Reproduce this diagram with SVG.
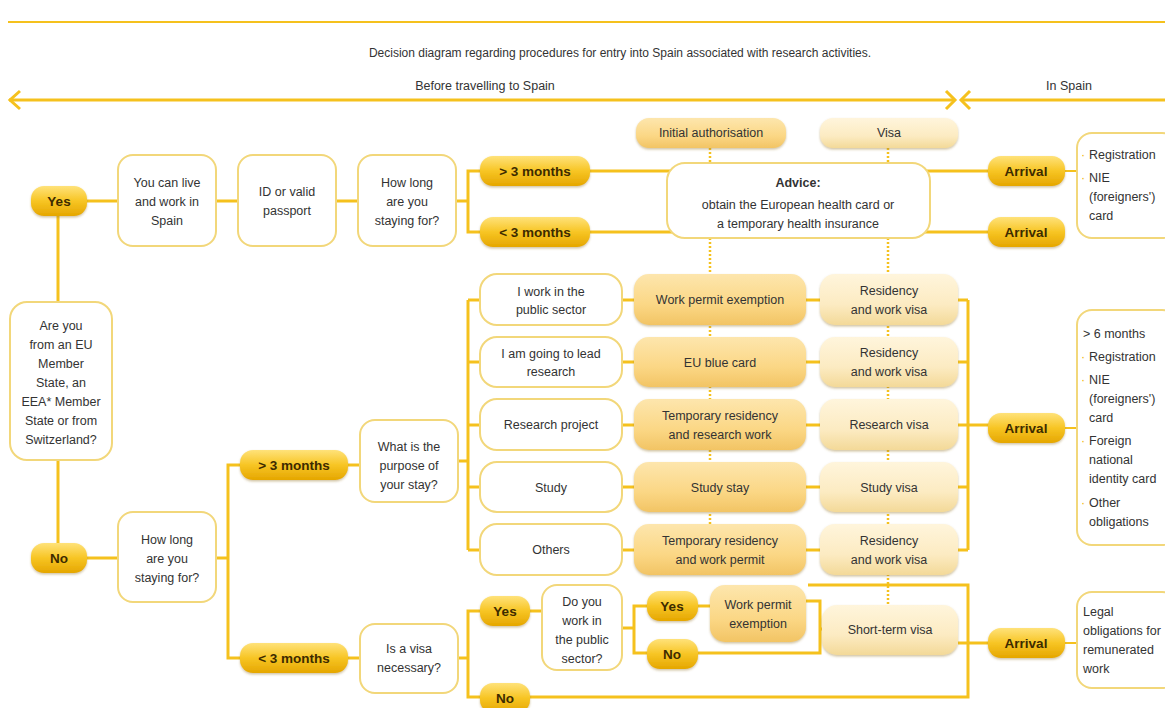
<svg xmlns="http://www.w3.org/2000/svg" width="1165" height="708" viewBox="0 0 1165 708">
<defs>
<linearGradient id="gPill" x1="0" y1="0" x2="0" y2="1"><stop offset="0" stop-color="#ffe27a"/><stop offset="0.5" stop-color="#f7c524"/><stop offset="1" stop-color="#e5a600"/></linearGradient>
<linearGradient id="gMid" x1="0" y1="0" x2="0" y2="1"><stop offset="0" stop-color="#fde6ad"/><stop offset="0.6" stop-color="#fbd785"/><stop offset="1" stop-color="#f2c464"/></linearGradient>
<linearGradient id="gLight" x1="0" y1="0" x2="0" y2="1"><stop offset="0" stop-color="#fff5dc"/><stop offset="0.6" stop-color="#fcebc2"/><stop offset="1" stop-color="#f3d998"/></linearGradient>
<filter id="sh" x="-10%" y="-20%" width="120%" height="150%"><feDropShadow dx="0" dy="1.5" stdDeviation="1.2" flood-color="#9a7a30" flood-opacity="0.45"/></filter>
<style>
.t{font-family:"Liberation Sans",Arial,sans-serif;font-size:12.5px;fill:#333;text-anchor:middle}
.tl{font-family:"Liberation Sans",Arial,sans-serif;font-size:12.5px;fill:#333}
.b{font-family:"Liberation Sans",Arial,sans-serif;font-size:13.5px;font-weight:bold;fill:#3d2b00;text-anchor:middle}
.bu{fill:#f2b705}
.box{fill:#fff;stroke:#f2d77a;stroke-width:2}
.pill{fill:url(#gPill);filter:url(#sh)}
.mid{fill:url(#gMid);filter:url(#sh)}
.lt{fill:url(#gLight);filter:url(#sh)}
.ln{fill:none;stroke:#f5c11d;stroke-width:3}
.thin{fill:none;stroke:#f5c11d;stroke-width:2}
.dot{fill:none;stroke:#f5c11d;stroke-width:2.5;stroke-dasharray:2 2}
</style>
</defs>
<rect width="1165" height="708" fill="#fff"/>
<g id="header">
<line class="thin" x1="8" y1="22" x2="1165" y2="22"/>
<text class="t" x="620" y="57" style="font-size:12px">Decision diagram regarding procedures for entry into Spain associated with research activities.</text>
<text class="t" x="485" y="90">Before travelling to Spain</text>
<text class="t" x="1069" y="90">In Spain</text>
<line class="ln" x1="9" y1="100" x2="955" y2="100"/>
<polyline class="ln" points="20,91 10,100 20,109"/>
<polyline class="ln" points="946,91 955,100 946,109"/>
<line class="ln" x1="961" y1="100" x2="1165" y2="100"/>
<polyline class="ln" points="970,91 961,100 970,109"/>
</g>
<g id="connectors">
<line class="ln" x1="58" y1="201" x2="358" y2="201"/>
<polyline class="ln" points="456,201 468,201"/>
<polyline class="ln" points="480,171 468,171 468,232 480,232"/>
<line class="ln" x1="590" y1="171" x2="990" y2="171"/>
<line class="ln" x1="590" y1="232" x2="990" y2="232"/>
<line class="thin" x1="1065" y1="171" x2="1078" y2="171"/>
<line class="ln" x1="58" y1="201" x2="58" y2="558"/>
<line class="dot" x1="710" y1="148" x2="710" y2="164"/>
<line class="dot" x1="888" y1="148" x2="888" y2="164"/>
<line class="dot" x1="710" y1="238" x2="710" y2="526"/>
<line class="dot" x1="888" y1="238" x2="888" y2="606"/>
<line class="ln" x1="58" y1="558" x2="118" y2="558"/>
<polyline class="ln" points="216,558 228,558"/>
<polyline class="ln" points="240,465 228,465 228,658 240,658"/>
<line class="ln" x1="348" y1="465" x2="360" y2="465"/>
<line class="ln" x1="348" y1="658" x2="360" y2="658"/>
<line class="ln" x1="458" y1="461" x2="468" y2="461"/>
<line class="ln" x1="468" y1="300" x2="468" y2="550"/>
<line class="ln" x1="468" y1="300" x2="968" y2="300"/>
<line class="ln" x1="468" y1="362" x2="968" y2="362"/>
<line class="ln" x1="468" y1="425" x2="990" y2="425"/>
<line class="ln" x1="468" y1="487" x2="968" y2="487"/>
<line class="ln" x1="468" y1="550" x2="968" y2="550"/>
<line class="ln" x1="968" y1="300" x2="968" y2="550"/>
<line class="thin" x1="1065" y1="428" x2="1078" y2="428"/>
<line class="ln" x1="458" y1="658" x2="468" y2="658"/>
<polyline class="ln" points="480,611 468,611 468,697 968,697 968,585 808,585"/>
<line class="ln" x1="530" y1="611" x2="542" y2="611"/>
<line class="ln" x1="622" y1="628" x2="634" y2="628"/>
<polyline class="ln" points="647,606 634,606 634,653 647,653"/>
<line class="ln" x1="698" y1="606" x2="710" y2="606"/>
<polyline class="ln" points="806,601 820,601 820,653 698,653"/>
<line class="ln" x1="820" y1="629" x2="824" y2="629"/>
<line class="ln" x1="958" y1="643" x2="990" y2="643"/>
<line class="thin" x1="1065" y1="643" x2="1078" y2="643"/>
</g>
<g id="n-yes"><rect class="pill" x="31" y="186" width="56" height="30" rx="13"/><text class="b" x="59" y="206">Yes</text></g>
<g id="n-live"><rect class="box" x="118" y="155" width="98" height="91" rx="15"/><text class="t" x="167" y="187">You can live</text><text class="t" x="167" y="206">and work in</text><text class="t" x="167" y="225">Spain</text></g>
<g id="n-id"><rect class="box" x="238" y="155" width="98" height="91" rx="15"/><text class="t" x="287" y="196">ID or valid</text><text class="t" x="287" y="215">passport</text></g>
<g id="n-howlong1"><rect class="box" x="358" y="155" width="98" height="91" rx="15"/><text class="t" x="407" y="187">How long</text><text class="t" x="407" y="206">are you</text><text class="t" x="407" y="225">staying for?</text></g>
<g id="n-gt3a"><rect class="pill" x="480" y="156" width="110" height="30" rx="13"/><text class="b" x="535" y="176">&gt; 3 months</text></g>
<g id="n-lt3a"><rect class="pill" x="480" y="217" width="110" height="30" rx="13"/><text class="b" x="535" y="237">&lt; 3 months</text></g>
<g id="n-initauth"><rect class="mid" x="636" y="118" width="150" height="30" rx="13"/><text class="t" x="711" y="137">Initial authorisation</text></g>
<g id="n-visa"><rect class="lt" x="820" y="118" width="138" height="30" rx="13"/><text class="t" x="889" y="137">Visa</text></g>
<g id="n-advice"><rect class="box" x="667" y="163" width="263" height="75" rx="18"/><text class="t" x="798" y="187" style="font-weight:bold">Advice:</text><text class="t" x="798" y="209">obtain the European health card or</text><text class="t" x="798" y="228">a temporary health insurance</text></g>
<g id="n-arr1"><rect class="pill" x="988" y="156" width="77" height="30" rx="13"/><text class="b" x="1026" y="176">Arrival</text></g>
<g id="n-arr2"><rect class="pill" x="988" y="217" width="77" height="30" rx="13"/><text class="b" x="1026" y="237">Arrival</text></g>
<g id="n-reg1"><rect class="box" x="1077" y="133" width="100" height="105" rx="15"/><text class="tl bu" x="1081" y="159">·</text><text class="tl" x="1089" y="159">Registration</text><text class="tl bu" x="1081" y="182">·</text><text class="tl" x="1089" y="182">NIE</text><text class="tl" x="1089" y="201">(foreigners')</text><text class="tl" x="1089" y="220">card</text></g>
<g id="n-eu"><rect class="box" x="10" y="302" width="102" height="158" rx="17"/><text class="t" x="61" y="330">Are you</text><text class="t" x="61" y="349">from an EU</text><text class="t" x="61" y="368">Member</text><text class="t" x="61" y="387">State, an</text><text class="t" x="61" y="406">EEA* Member</text><text class="t" x="61" y="425">State or from</text><text class="t" x="61" y="444">Switzerland?</text></g>
<g id="n-no"><rect class="pill" x="31" y="543" width="56" height="30" rx="13"/><text class="b" x="59" y="563">No</text></g>
<g id="n-howlong2"><rect class="box" x="118" y="512" width="98" height="90" rx="15"/><text class="t" x="167" y="544">How long</text><text class="t" x="167" y="563">are you</text><text class="t" x="167" y="582">staying for?</text></g>
<g id="n-gt3b"><rect class="pill" x="240" y="450" width="108" height="30" rx="13"/><text class="b" x="294" y="470">&gt; 3 months</text></g>
<g id="n-lt3b"><rect class="pill" x="240" y="643" width="108" height="30" rx="13"/><text class="b" x="294" y="663">&lt; 3 months</text></g>
<g id="n-purpose"><rect class="box" x="360" y="420" width="98" height="82" rx="15"/><text class="t" x="409" y="451">What is the</text><text class="t" x="409" y="470">purpose of</text><text class="t" x="409" y="489">your stay?</text></g>
<g id="n-opt1"><rect class="box" x="480" y="274" width="142" height="51" rx="17"/><text class="t" x="551" y="296">I work in the</text><text class="t" x="551" y="314">public sector</text></g>
<g id="n-opt2"><rect class="box" x="480" y="337" width="142" height="50" rx="17"/><text class="t" x="551" y="358">I am going to lead</text><text class="t" x="551" y="376">research</text></g>
<g id="n-opt3"><rect class="box" x="480" y="399" width="142" height="51" rx="17"/><text class="t" x="551" y="429">Research project</text></g>
<g id="n-opt4"><rect class="box" x="480" y="462" width="142" height="50" rx="17"/><text class="t" x="551" y="492">Study</text></g>
<g id="n-opt5"><rect class="box" x="480" y="524" width="142" height="51" rx="17"/><text class="t" x="551" y="554">Others</text></g>
<g id="n-mid1"><rect class="mid" x="634" y="274" width="172" height="51" rx="15"/><text class="t" x="720" y="304">Work permit exemption</text></g>
<g id="n-mid2"><rect class="mid" x="634" y="337" width="172" height="50" rx="15"/><text class="t" x="720" y="367">EU blue card</text></g>
<g id="n-mid3"><rect class="mid" x="634" y="399" width="172" height="51" rx="15"/><text class="t" x="720" y="420">Temporary residency</text><text class="t" x="720" y="439">and research work</text></g>
<g id="n-mid4"><rect class="mid" x="634" y="462" width="172" height="50" rx="15"/><text class="t" x="720" y="492">Study stay</text></g>
<g id="n-mid5"><rect class="mid" x="634" y="524" width="172" height="51" rx="15"/><text class="t" x="720" y="545">Temporary residency</text><text class="t" x="720" y="564">and work permit</text></g>
<g id="n-v1"><rect class="lt" x="820" y="274" width="138" height="51" rx="15"/><text class="t" x="889" y="295">Residency</text><text class="t" x="889" y="314">and work visa</text></g>
<g id="n-v2"><rect class="lt" x="820" y="337" width="138" height="50" rx="15"/><text class="t" x="889" y="357">Residency</text><text class="t" x="889" y="376">and work visa</text></g>
<g id="n-v3"><rect class="lt" x="820" y="399" width="138" height="51" rx="15"/><text class="t" x="889" y="429">Research visa</text></g>
<g id="n-v4"><rect class="lt" x="820" y="462" width="138" height="50" rx="15"/><text class="t" x="889" y="492">Study visa</text></g>
<g id="n-v5"><rect class="lt" x="820" y="524" width="138" height="51" rx="15"/><text class="t" x="889" y="545">Residency</text><text class="t" x="889" y="564">and work visa</text></g>
<g id="n-arr3"><rect class="pill" x="988" y="413" width="77" height="30" rx="13"/><text class="b" x="1026" y="433">Arrival</text></g>
<g id="n-reg2"><rect class="box" x="1077" y="310" width="100" height="235" rx="15"/><text class="tl" x="1083" y="338">&gt; 6 months</text><text class="tl bu" x="1081" y="361">·</text><text class="tl" x="1089" y="361">Registration</text><text class="tl bu" x="1081" y="384">·</text><text class="tl" x="1089" y="384">NIE</text><text class="tl" x="1089" y="403">(foreigners')</text><text class="tl" x="1089" y="422">card</text><text class="tl bu" x="1081" y="445">·</text><text class="tl" x="1089" y="445">Foreign</text><text class="tl" x="1089" y="464">national</text><text class="tl" x="1089" y="483">identity card</text><text class="tl bu" x="1081" y="507">·</text><text class="tl" x="1089" y="507">Other</text><text class="tl" x="1089" y="526">obligations</text></g>
<g id="n-visaneed"><rect class="box" x="360" y="624" width="98" height="69" rx="15"/><text class="t" x="409" y="653">Is a visa</text><text class="t" x="409" y="672">necessary?</text></g>
<g id="n-yes2"><rect class="pill" x="480" y="596" width="50" height="30" rx="13"/><text class="b" x="505" y="616">Yes</text></g>
<g id="n-no2"><rect class="pill" x="480" y="683" width="50" height="30" rx="13"/><text class="b" x="505" y="703">No</text></g>
<g id="n-public"><rect class="box" x="542" y="585" width="80" height="85" rx="15"/><text class="t" x="582" y="606">Do you</text><text class="t" x="582" y="625">work in</text><text class="t" x="582" y="644">the public</text><text class="t" x="582" y="663">sector?</text></g>
<g id="n-yes3"><rect class="pill" x="647" y="591" width="51" height="30" rx="13"/><text class="b" x="672" y="611">Yes</text></g>
<g id="n-no3"><rect class="pill" x="647" y="639" width="51" height="30" rx="13"/><text class="b" x="672" y="659">No</text></g>
<g id="n-wpe2"><rect class="mid" x="710" y="585" width="96" height="57" rx="15"/><text class="t" x="758" y="609">Work permit</text><text class="t" x="758" y="628">exemption</text></g>
<g id="n-short"><rect class="lt" x="822" y="605" width="136" height="50" rx="15"/><text class="t" x="890" y="634">Short-term visa</text></g>
<g id="n-arr4"><rect class="pill" x="988" y="628" width="77" height="30" rx="13"/><text class="b" x="1026" y="648">Arrival</text></g>
<g id="n-legal"><rect class="box" x="1077" y="592" width="100" height="96" rx="15"/><text class="tl" x="1083" y="616">Legal</text><text class="tl" x="1083" y="635">obligations for</text><text class="tl" x="1083" y="654">remunerated</text><text class="tl" x="1083" y="673">work</text></g>
</svg>
